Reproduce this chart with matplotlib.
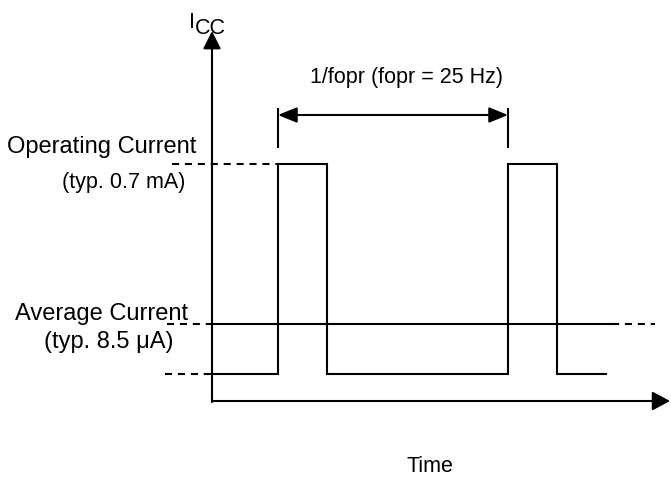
import matplotlib
matplotlib.use("Agg")
from matplotlib import pyplot as plt

plt.rcParams['font.family'] = ['Liberation Sans', 'DejaVu Sans']

# diagram units: time to the right, current drawn downward (pixel-like scale)
t_edges = [212, 278, 327, 508, 557, 606]      # waveform break points
lvl_low = 375        # sleep current level
lvl_op = 165         # operating current level
lvl_avg = 325        # average current level
t_axis0 = 212        # origin of time axis
t_axis_end = 670
i_axis_top = 32
i_axis0 = 402
period_start, period_end = 278, 508
period_y = 116

labels = ["Operating Current", "(typ. 0.7 mA)", "Average Current", "(typ. 8.5 \u03bcA)"]
period_text = "1/fopr (fopr = 25 Hz)"

fig = plt.figure(figsize=(6.71, 4.81), dpi=100)
ax = fig.add_axes([0, 0, 1, 1])
ax.set_xlim(0, 671)
ax.set_ylim(481, 0)
ax.axis('off')

lw = 1.5
dash = (0, (3.4, 2.8))

# waveform
xs, ys = [], []
for k, t in enumerate(t_edges):
    if k == 0:
        xs.append(t); ys.append(lvl_low)
    elif k == len(t_edges) - 1:
        xs.append(t); ys.append(ys[-1])
    else:
        prev = ys[-1]
        new = lvl_op if prev == lvl_low else lvl_low
        xs += [t, t]; ys += [prev, new]
ax.plot(xs, ys, color='black', lw=lw, solid_joinstyle='miter')

# average current line
ax.plot([t_axis0, 612], [lvl_avg, lvl_avg], color='black', lw=lw)
ax.plot([612, 655], [lvl_avg, lvl_avg], color='black', lw=lw, linestyle=dash)
ax.plot([167, t_axis0], [lvl_avg, lvl_avg], color='black', lw=lw, linestyle=dash)
# level guides
ax.plot([165, t_axis0], [lvl_low, lvl_low], color='black', lw=lw, linestyle=dash)
ax.plot([172, t_edges[1]], [lvl_op, lvl_op], color='black', lw=lw, linestyle=dash)

# axes with arrows
ax.annotate('', xy=(t_axis0, i_axis_top), xytext=(t_axis0, i_axis0 + 1),
            arrowprops=dict(arrowstyle='-|>,head_length=1.08,head_width=0.54',
                            mutation_scale=10, lw=lw, color='black',
                            shrinkA=0, shrinkB=0))
ax.annotate('', xy=(t_axis_end, i_axis0), xytext=(t_axis0, i_axis0),
            arrowprops=dict(arrowstyle='-|>,head_length=1.08,head_width=0.58',
                            mutation_scale=10, lw=lw, color='black',
                            shrinkA=0, shrinkB=0))

# period dimension
ax.plot([period_start, period_start], [110, 148], color='black', lw=lw)
ax.plot([period_end, period_end], [110, 148], color='black', lw=lw)
ax.annotate('', xy=(period_end, period_y), xytext=(period_start, period_y),
            arrowprops=dict(arrowstyle='<|-|>,head_length=1.15,head_width=0.47',
                            mutation_scale=10, lw=lw, color='black',
                            shrinkA=0, shrinkB=0))

fs = 15.5
fs_big = 17
ax.text(407, 83, period_text, fontsize=fs, ha='center', va='baseline')
ax.text(7, 153, labels[0], fontsize=fs_big, ha='left', va='baseline')
ax.text(185, 188, labels[1], fontsize=fs, ha='right', va='baseline')
ax.text(15, 320, labels[2], fontsize=fs_big, ha='left', va='baseline')
ax.text(173, 348, labels[3], fontsize=fs_big, ha='right', va='baseline')
ax.text(430, 467, "Time", fontsize=fs, ha='center', va='center')
ax.text(189, 22, "I", fontsize=fs, ha='left', va='center')
ax.text(195, 28, "CC", fontsize=fs, ha='left', va='center')

fig.savefig("out.png", dpi=100)
